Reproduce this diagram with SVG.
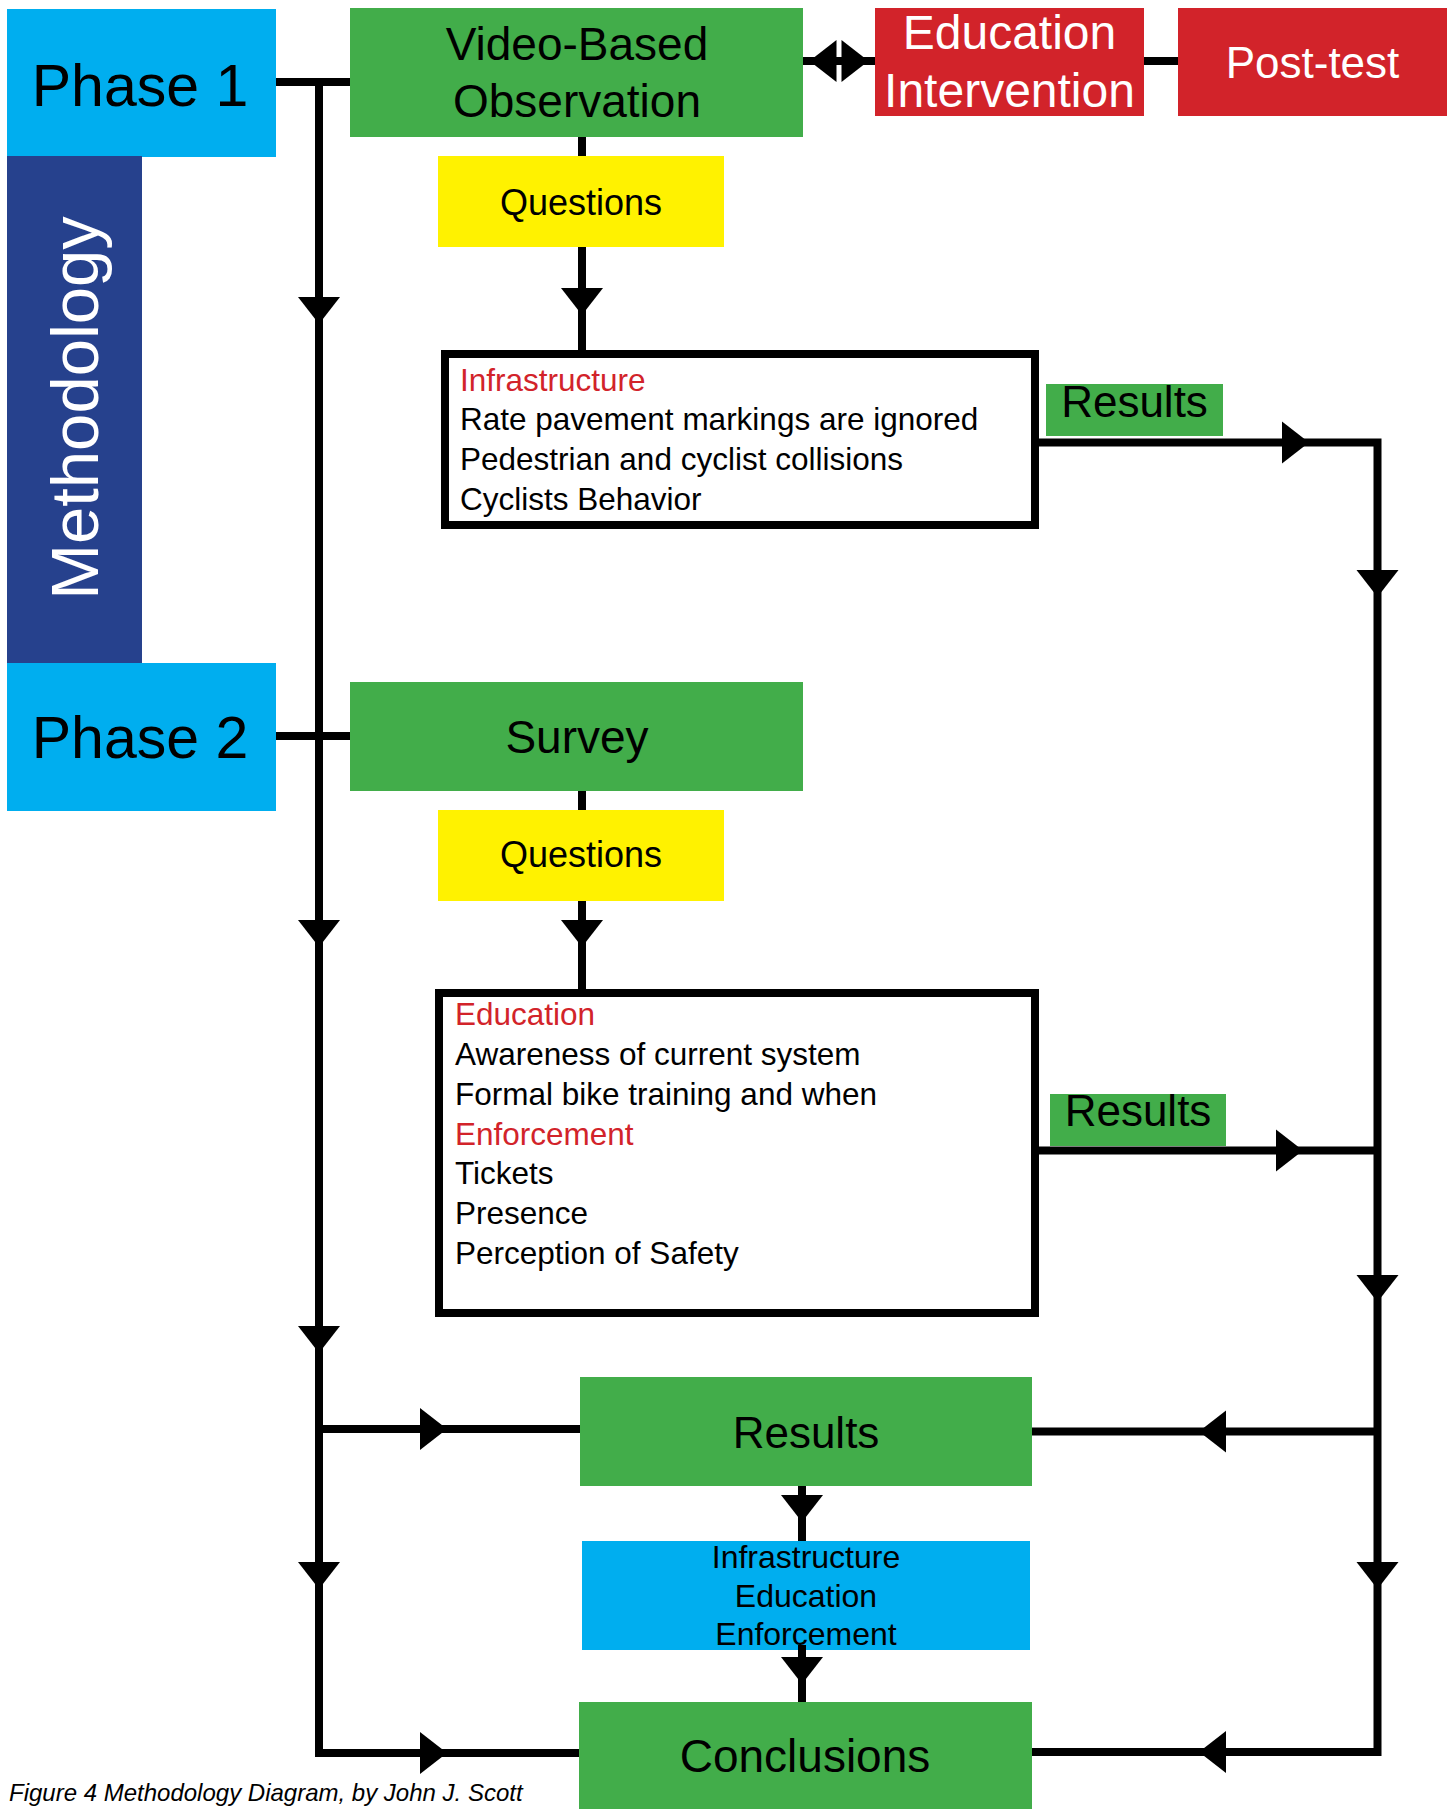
<svg xmlns="http://www.w3.org/2000/svg" width="1453" height="1809" viewBox="0 0 1453 1809">
<style>
text{font-family:"Liberation Sans",Arial,sans-serif;fill:#000}
.green{fill:#42AD4A}
.cyan{fill:#00AEEF}
.navy{fill:#26418D}
.yellow{fill:#FFF200}
.red{fill:#D2232A}
.box{fill:#fff;stroke:#000;stroke-width:8}
.c{text-anchor:middle}
.w{fill:#fff}
.rt{fill:#D2232A}
.line{fill:none;stroke:#000;stroke-width:8;stroke-linejoin:miter;stroke-linecap:butt}
.phase{font-size:59px}
.big{font-size:46px}
.ei{font-size:48px}
.res{font-size:44px}
.q{font-size:36px}
.item{font-size:31.5px}
.sum{font-size:32px}
.cap{font-size:24px;font-style:italic}
</style>
<defs>
<path id="ah" d="M-21,0 H21 L0,27 Z" fill="#000"/>
</defs>
<rect width="1453" height="1809" fill="#fff"/>

<g id="phase1">
<rect class="cyan" x="7" y="9" width="269" height="148"/>
<text class="c phase" x="140" y="106">Phase 1</text>
</g>
<g id="methodology">
<rect class="navy" x="7" y="156" width="135" height="507"/>
<text class="c w" font-size="67" transform="translate(98,408) rotate(-90)">Methodology</text>
</g>
<g id="phase2">
<rect class="cyan" x="7" y="663" width="269" height="148"/>
<text class="c phase" x="140" y="758">Phase 2</text>
</g>
<g id="video">
<rect class="green" x="350" y="8" width="453" height="129"/>
<text class="c big" x="577" y="60">Video-Based</text>
<text class="c big" x="577" y="117">Observation</text>
</g>
<g id="education-intervention">
<rect class="red" x="875" y="8" width="269" height="108"/>
<text class="c ei w" x="1009.5" y="49">Education</text>
<text class="c ei w" x="1009.5" y="106.5">Intervention</text>
</g>
<g id="post-test">
<rect class="red" x="1178" y="8" width="269" height="108"/>
<text class="c res w" x="1312.5" y="78">Post-test</text>
</g>
<g id="questions1">
<rect class="yellow" x="438" y="156" width="286" height="91"/>
<text class="c q" x="581" y="214.5">Questions</text>
</g>
<g id="infrastructure">
<rect class="box" x="445" y="354" width="590" height="171"/>
<text class="item rt" x="460" y="390.5">Infrastructure</text>
<text class="item" x="460" y="430">Rate pavement markings are ignored</text>
<text class="item" x="460" y="470">Pedestrian and cyclist collisions</text>
<text class="item" x="460" y="509.5">Cyclists Behavior</text>
</g>
<g id="results1">
<rect class="green" x="1046" y="384" width="177" height="52"/>
<text class="c res" x="1134.5" y="416.5">Results</text>
</g>
<g id="survey">
<rect class="green" x="350" y="682" width="453" height="109"/>
<text class="c big" x="577" y="752.5">Survey</text>
</g>
<g id="questions2">
<rect class="yellow" x="438" y="810" width="286" height="91"/>
<text class="c q" x="581" y="867">Questions</text>
</g>
<g id="education">
<rect class="box" x="439" y="993" width="596" height="320"/>
<text class="item rt" x="455" y="1025">Education</text>
<text class="item" x="455" y="1065">Awareness of current system</text>
<text class="item" x="455" y="1105">Formal bike training and when</text>
<text class="item rt" x="455" y="1144.5">Enforcement</text>
<text class="item" x="455" y="1184">Tickets</text>
<text class="item" x="455" y="1224">Presence</text>
<text class="item" x="455" y="1264">Perception of Safety</text>
</g>
<g id="results2">
<rect class="green" x="1050" y="1094" width="176" height="52"/>
<text class="c res" x="1138" y="1125.5">Results</text>
</g>
<g id="results">
<rect class="green" x="580" y="1377" width="452" height="109"/>
<text class="c res" x="806" y="1447.5">Results</text>
</g>
<g id="summary">
<rect class="cyan" x="582" y="1541" width="448" height="109"/>
<text class="c sum" x="806" y="1568">Infrastructure</text>
<text class="c sum" x="806" y="1606.5">Education</text>
<text class="c sum" x="806" y="1645">Enforcement</text>
</g>
<g id="conclusions">
<rect class="green" x="579" y="1702" width="453" height="107"/>
<text class="c big" x="805" y="1771.5">Conclusions</text>
</g>
<g id="caption">
<text class="cap" x="9" y="1801">Figure 4 Methodology Diagram, by John J. Scott</text>
</g>

<g id="connectors">
<path class="line" d="M276,82 H350"/>
<path class="line" d="M276,736 H350"/>
<path class="line" d="M319,82 V1753 H579"/>
<path class="line" d="M319,1429 H580"/>
<path class="line" d="M582,137 V156"/>
<path class="line" d="M582,247 V350"/>
<path class="line" d="M582,791 V810"/>
<path class="line" d="M582,901 V989"/>
<path class="line" d="M1039,442.5 H1377.5 V1752 H1032"/>
<path class="line" d="M1039,1150.5 H1377.5"/>
<path class="line" d="M1377.5,1431.5 H1032"/>
<path class="line" d="M802,1486 V1541"/>
<path class="line" d="M802,1645 V1702"/>
<path class="line" d="M803,61 H875"/>
<path class="line" d="M1144,61 H1178"/>
<use href="#ah" x="319" y="297"/>
<use href="#ah" x="319" y="920"/>
<use href="#ah" x="319" y="1326"/>
<use href="#ah" x="319" y="1562"/>
<use href="#ah" x="582" y="288"/>
<use href="#ah" x="582" y="920"/>
<use href="#ah" x="1377.5" y="570"/>
<use href="#ah" x="1377.5" y="1275"/>
<use href="#ah" x="1377.5" y="1562"/>
<use href="#ah" x="802" y="1495"/>
<use href="#ah" x="802" y="1657"/>
<use href="#ah" transform="translate(1282,442.5) rotate(-90)"/>
<use href="#ah" transform="translate(1276,1150.5) rotate(-90)"/>
<use href="#ah" transform="translate(420,1429) rotate(-90)"/>
<use href="#ah" transform="translate(420,1753) rotate(-90)"/>
<use href="#ah" transform="translate(1226,1431.5) rotate(90)"/>
<use href="#ah" transform="translate(1226,1752) rotate(90)"/>
<use href="#ah" transform="translate(836.5,61) rotate(90)"/>
<use href="#ah" transform="translate(841.5,61) rotate(-90)"/>
</g>
</svg>
